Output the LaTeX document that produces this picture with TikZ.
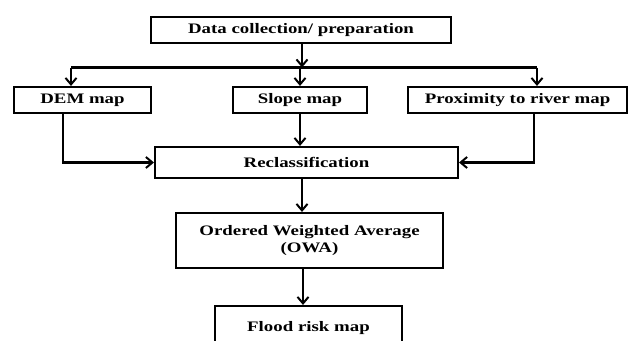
\documentclass[tikz,border=0pt]{standalone}
\usepackage{fontspec}
\setmainfont{Liberation Serif}[FakeStretch=1.3]
\usetikzlibrary{arrows.meta}
\begin{document}
\begin{tikzpicture}[x=1pt,y=-1pt,
  box/.style={draw=black,line width=2.1pt,minimum height=26pt,inner sep=0pt,
    font=\fontsize{14.5}{17}\selectfont\bfseries,align=center},
  arr/.style={draw=black,line width=2.1pt,-{Straight Barb[length=6.5pt,width=11pt,line width=2pt]}},
  ln/.style={draw=black,line width=2.1pt}]
\useasboundingbox (0,0) rectangle (629,340);
\clip (0,0) rectangle (629,340);
\node[box,minimum width=300pt] (data) at (301,30) {Data collection/ preparation};
\node[box,minimum width=137pt] (dem) at (82.5,100) {DEM map};
\node[box,minimum width=134pt] (slope) at (300,100) {Slope map};
\node[box,minimum width=219pt] (prox) at (517.5,100) {Proximity to river map};
\node[box,minimum width=303pt,minimum height=31pt] (recl) at (306.5,162.5) {Reclassification};
\node[box,minimum width=267pt,minimum height=55pt] (owa) at (309.5,240.5) {Ordered Weighted Average\\(OWA)};
\node[box,minimum width=187pt,minimum height=44pt] (flood) at (308.5,328) {Flood risk map};
\coordinate (jc) at (302,67.5);
\coordinate (jl) at (71,67.5);
\coordinate (jr) at (537,67.5);
\draw[arr] (data.south -| jc) -- (jc);
\draw[ln] (jl) -- (jr);
\draw[arr] (jl) -- (jl |- dem.north);
\draw[arr] (jc -| slope.north) -- (slope.north);
\draw[arr] (jr) -- (jr |- prox.north);
\draw[arr] (slope.south) -- (recl.north -| slope.south);
\coordinate (dl) at (63,162.5);
\coordinate (pr) at (534,162.5);
\draw[arr] (dl |- dem.south) -- (dl) -- (recl.west);
\draw[arr] (pr |- prox.south) -- (pr) -- (recl.east);
\draw[arr] (recl.south -| jc) -- (owa.north -| jc);
\draw[arr] (owa.south -| 303,0) -- (flood.north -| 303,0);
\end{tikzpicture}
\end{document}
